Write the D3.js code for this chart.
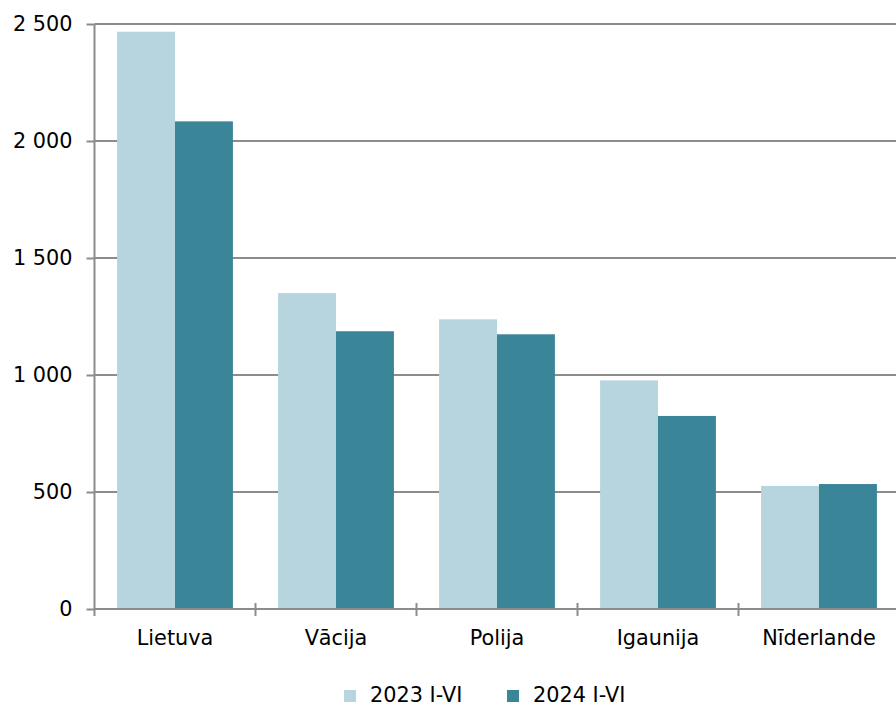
<!DOCTYPE html>
<html><head><meta charset="utf-8">
<script src="https://cdn.jsdelivr.net/npm/d3@7"></script>
<style>body{margin:0;background:#fff}svg{display:block}text{font-family:"DejaVu Sans",Verdana,sans-serif;fill:#000}</style>
</head><body><svg id="c" width="896" height="706"></svg>
<script>
const categories = ["Lietuva", "Vācija", "Polija", "Igaunija", "Nīderlande"];
const seriesNames = ["2023 I-VI", "2024 I-VI"];
const values2023 = [2467, 1350, 1238, 977, 526];
const values2024 = [2084, 1187, 1174, 825, 534];
const yTicks = [0, 500, 1000, 1500, 2000, 2500];
const colors = ["#b7d5df", "#3a8598"];

const FS = "20.8px";
const svg = d3.select("#c");
const x0 = 94.5, x1 = 899.5, yTop = 24, yBot = 609;
const x = d3.scaleBand().domain(categories).range([x0, x1]).paddingInner(0).paddingOuter(0);
const xs = d3.scaleBand().domain(seriesNames).range([0, x.bandwidth()]).paddingInner(0).paddingOuter(0.39);
const y = d3.scaleLinear().domain([0, 2500]).range([yBot, yTop]);
const fmt = v => d3.format(",")(v).replace(/,/g, " ");

// gridlines
svg.append("g").selectAll("line").data(yTicks.filter(t => t > 0)).join("line")
  .attr("x1", x0).attr("x2", 896).attr("y1", d => y(d)).attr("y2", d => y(d))
  .attr("stroke", "#8c8c8c").attr("stroke-width", 2);

// bars
const data = categories.map((c, i) => ({c, v: [values2023[i], values2024[i]]}));
const g = svg.append("g").selectAll("g").data(data).join("g")
  .attr("transform", d => `translate(${x(d.c)},0)`);
g.selectAll("rect").data(d => d.v.map((v, j) => ({v, s: seriesNames[j], j}))).join("rect")
  .attr("x", d => xs(d.s)).attr("width", xs.bandwidth())
  .attr("y", d => y(d.v)).attr("height", d => yBot - y(d.v))
  .attr("fill", d => colors[d.j]);

// y axis
const ya = svg.append("g").attr("transform", `translate(${x0},0)`)
  .call(d3.axisLeft(y).tickValues(yTicks).tickFormat(fmt).tickSize(8).tickPadding(14));
ya.select(".domain").remove();
ya.selectAll("line").attr("stroke", "#8c8c8c").attr("stroke-width", 2);
ya.selectAll("text").attr("font-size", FS).attr("font-family", '"DejaVu Sans",Verdana,sans-serif').attr("fill", "#000");
svg.append("line").attr("x1", x0).attr("x2", x0).attr("y1", yTop).attr("y2", yBot + 7)
  .attr("stroke", "#8c8c8c").attr("stroke-width", 2);

// x axis
svg.append("line").attr("x1", x0).attr("x2", 896).attr("y1", yBot).attr("y2", yBot)
  .attr("stroke", "#8c8c8c").attr("stroke-width", 2);
svg.append("g").selectAll("line").data(categories.slice(1)).join("line")
  .attr("x1", d => x(d)).attr("x2", d => x(d)).attr("y1", yBot - 6).attr("y2", yBot + 7)
  .attr("stroke", "#8c8c8c").attr("stroke-width", 2);
svg.append("g").selectAll("text").data(categories).join("text")
  .attr("x", d => x(d) + x.bandwidth() / 2).attr("y", 645)
  .attr("text-anchor", "middle").attr("font-size", FS).text(d => d);

// legend
const legX = [344, 507];
const lg = svg.append("g").selectAll("g").data(seriesNames).join("g")
  .attr("transform", (d, i) => `translate(${legX[i]},0)`);
lg.append("rect").attr("x", 0).attr("y", 690).attr("width", 12).attr("height", 12)
  .attr("fill", (d, i) => colors[i]);
lg.append("text").attr("x", 26).attr("y", 702).attr("font-size", FS).text(d => d);
</script></body></html>
